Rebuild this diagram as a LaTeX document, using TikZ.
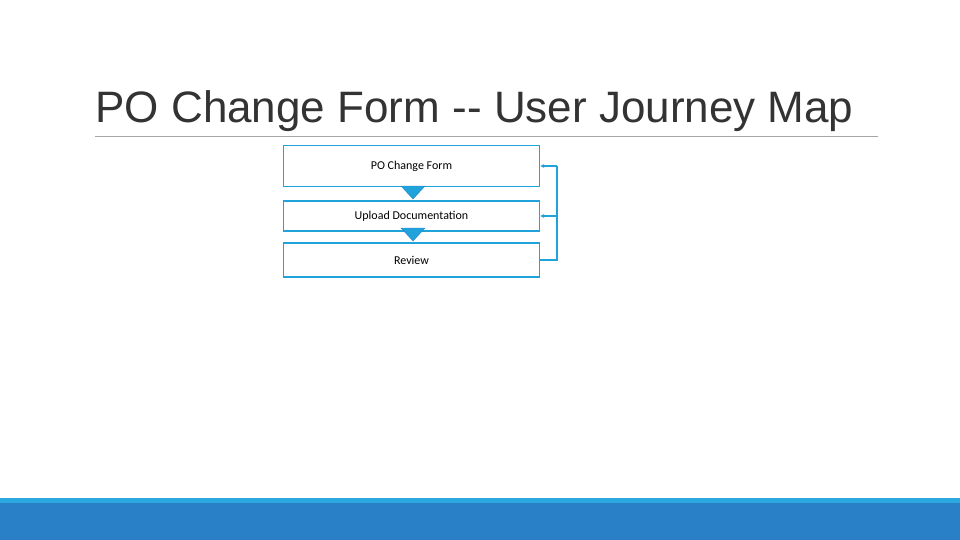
\documentclass[tikz,border=0pt]{standalone}
\usepackage{fontspec}
\setmainfont{Carlito}
\newfontfamily\titlefont{Liberation Sans}
\usetikzlibrary{arrows.meta}
\definecolor{boxblue}{HTML}{1FA3DA}
\definecolor{barlight}{HTML}{2AA8DF}
\definecolor{bardark}{HTML}{2A80C6}
\begin{document}
\begin{tikzpicture}[
            x = 1pt, y = -1pt,
            > = {Stealth[length=4pt,width=4pt]}, % arrow head style
            stepbox/.style = {draw = boxblue, line width = 1.6pt, fill = white,
                minimum width = 256pt, inner sep = 0pt, font = \fontsize{12}{14}\selectfont},
            pointer/.style = {fill = boxblue, draw = bardark, line width = 0.4pt},
            back/.style = {draw = boxblue, line width = 1.2pt}
        ]
        \useasboundingbox (0,0) rectangle (960,540);
        \fill[barlight] (0,498) rectangle (960,503);
        \fill[bardark] (0,503) rectangle (960,540);

        \node[anchor = base west, font = \titlefont\fontsize{44}{50}\selectfont, text = black!80]
            (title) at (92,123) {PO Change Form -- User Journey Map};
        \draw[black!35, line width = 0.8pt] (95,136) -- (878,136);

        \node[stepbox, minimum height = 41pt] (form) at (411.5,166) {PO Change Form};
        \node[stepbox, minimum height = 30pt] (upload) at (411.5,216) {Upload Documentation};
        \node[stepbox, minimum height = 34pt] (review) at (411.5,260) {Review};

        % down pointers between the steps
        \draw[pointer] (401,186) -- (425,186) -- (413,199) -- cycle;
        \draw[pointer] (401,228) -- (425,228) -- (413,241) -- cycle;

        % loop back from review
        \coordinate (turn) at (557,260);
        \draw[back] (review.east) -- (turn) -- (turn |- form.east);
        \draw[back, ->] (turn |- form.east) -- (form.east);
        \draw[back, ->] (turn |- upload.east) -- (upload.east);
    \end{tikzpicture}
\end{document}
